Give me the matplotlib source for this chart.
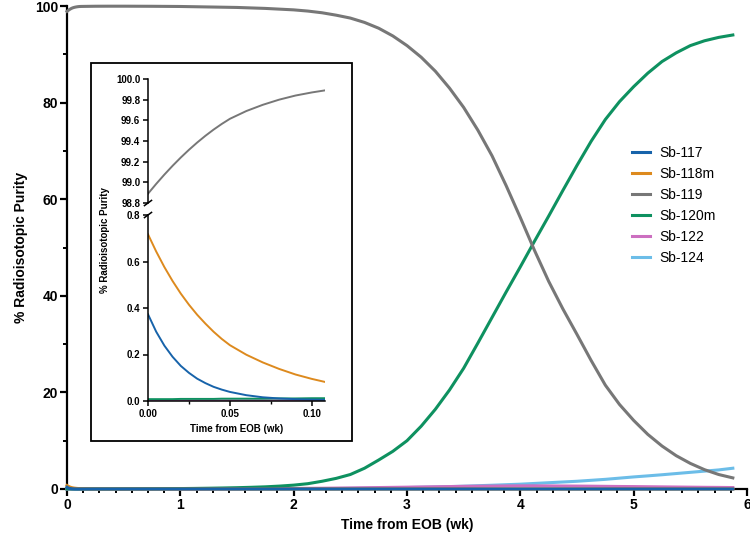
import numpy as np
import matplotlib
matplotlib.use("Agg")
import matplotlib.pyplot as plt
from matplotlib.ticker import FixedLocator, MultipleLocator, FormatStrFormatter
from matplotlib.patches import Rectangle

plt.rcParams['font.family'] = ['Liberation Sans', 'DejaVu Sans']

# time from end of bombardment (weeks)
t_wk = [0, 0.005, 0.01, 0.015, 0.02, 0.025, 0.03, 0.035, 0.04, 0.045, 0.05, 0.06, 0.07, 0.08, 0.09, 0.10, 0.108,
        0.125, 0.25, 0.375, 0.5, 0.625, 0.75, 0.875, 1.0, 1.125, 1.25, 1.375, 1.5, 1.625, 1.75, 1.875,
        2.0, 2.125, 2.25, 2.375, 2.5, 2.625, 2.75, 2.875, 3.0, 3.125, 3.25, 3.375, 3.5, 3.625, 3.75, 3.875,
        4.0, 4.125, 4.25, 4.375, 4.5, 4.625, 4.75, 4.875, 5.0, 5.125, 5.25, 5.375, 5.5, 5.625, 5.75, 5.875]

sb117 = [0.373, 0.298, 0.238, 0.190, 0.151, 0.121, 0.096, 0.077, 0.061, 0.049, 0.039, 0.025, 0.016, 0.011, 0.008, 0.006, 0.005,
         0.003, 0.0003, 0, 0, 0, 0, 0, 0, 0, 0, 0, 0, 0, 0, 0,
         0, 0, 0, 0, 0, 0, 0, 0, 0, 0, 0, 0, 0, 0, 0, 0,
         0, 0, 0, 0, 0, 0, 0, 0, 0, 0, 0, 0, 0, 0, 0, 0]
sb118m = [0.717, 0.643, 0.576, 0.516, 0.462, 0.414, 0.371, 0.333, 0.298, 0.267, 0.240, 0.199, 0.166, 0.138, 0.114, 0.095, 0.082,
          0.06, 0.008, 0.002, 0, 0, 0, 0, 0, 0, 0, 0, 0, 0, 0, 0,
          0, 0, 0, 0, 0, 0, 0, 0, 0, 0, 0, 0, 0, 0, 0, 0,
          0, 0, 0, 0, 0, 0, 0, 0, 0, 0, 0, 0, 0, 0, 0, 0]
sb119 = [98.89, 98.985, 99.075, 99.16, 99.24, 99.315, 99.385, 99.45, 99.51, 99.565, 99.615, 99.69, 99.75, 99.80, 99.84, 99.87, 99.89,
         99.91, 99.95, 99.96, 99.96, 99.95, 99.94, 99.92, 99.9, 99.85, 99.8, 99.75, 99.7, 99.6, 99.5, 99.35,
         99.2, 98.95, 98.6, 98.1, 97.5, 96.6, 95.4, 93.8, 91.8, 89.4, 86.5, 83.0, 79.0, 74.3, 69.0, 62.8,
         56.2, 49.4, 43.0, 37.3, 32.0, 26.6, 21.5, 17.5, 14.2, 11.3, 8.9, 6.9, 5.3, 4.0, 3.0, 2.3]
sb120m = [0.008, 0.008, 0.008, 0.008, 0.009, 0.009, 0.009, 0.009, 0.009, 0.010, 0.010, 0.010, 0.010, 0.011, 0.011, 0.012, 0.012,
          0.012, 0.015, 0.018, 0.03, 0.04, 0.05, 0.07, 0.09, 0.12, 0.16, 0.21, 0.27, 0.35, 0.45, 0.6,
          0.8, 1.1, 1.6, 2.2, 3.0, 4.3, 6.0, 7.8, 10.0, 13.0, 16.5, 20.5, 25.0, 30.2, 35.5, 40.8,
          46.0, 51.3, 56.5, 61.8, 67.0, 72.0, 76.5, 80.2, 83.3, 86.1, 88.5, 90.3, 91.8, 92.8, 93.5, 94.0]
sb122 = [0.003, 0.003, 0.003, 0.003, 0.003, 0.003, 0.003, 0.003, 0.003, 0.003, 0.003, 0.003, 0.003, 0.003, 0.003, 0.003, 0.003,
         0.004, 0.005, 0.007, 0.01, 0.014, 0.02, 0.025, 0.03, 0.035, 0.04, 0.05, 0.06, 0.075, 0.09, 0.105,
         0.12, 0.14, 0.16, 0.19, 0.22, 0.26, 0.3, 0.34, 0.38, 0.42, 0.46, 0.5, 0.55, 0.58, 0.6, 0.63,
         0.65, 0.65, 0.64, 0.62, 0.6, 0.58, 0.55, 0.52, 0.5, 0.47, 0.44, 0.41, 0.38, 0.35, 0.33, 0.3]
sb124 = [0.002, 0.002, 0.002, 0.002, 0.002, 0.002, 0.002, 0.002, 0.002, 0.002, 0.002, 0.002, 0.002, 0.002, 0.002, 0.002, 0.002,
         0.002, 0.002, 0.003, 0.004, 0.004, 0.005, 0.006, 0.008, 0.01, 0.012, 0.016, 0.02, 0.025, 0.03, 0.04,
         0.05, 0.065, 0.08, 0.1, 0.13, 0.16, 0.2, 0.25, 0.3, 0.36, 0.42, 0.5, 0.58, 0.68, 0.78, 0.89,
         1.0, 1.15, 1.3, 1.45, 1.6, 1.8, 2.0, 2.25, 2.5, 2.72, 2.95, 3.2, 3.45, 3.7, 3.95, 4.3]

labels = ['Sb-117', 'Sb-118m', 'Sb-119', 'Sb-120m', 'Sb-122', 'Sb-124']
colors = ['#1763AA', '#DD8A1E', '#777777', '#0E9160', '#CC6FC0', '#6CBDE8']
series = [sb117, sb118m, sb119, sb120m, sb122, sb124]

W, H = 750, 538
fig = plt.figure(figsize=(7.5, 5.38), dpi=100)


def fbox(x0, y0, x1, y1):
    # pixel box (top-left origin) -> figure fraction rect
    return [x0 / W, 1 - y1 / H, (x1 - x0) / W, (y1 - y0) / H]


# main axes
ax = fig.add_axes(fbox(67, 6, 747, 489))
lines = []
for lab, col, vals in reversed(list(zip(labels, colors, series))):
    ln, = ax.plot(t_wk, vals, color=col, lw=2.2, label=lab, zorder=3, clip_on=False)
    lines.append(ln)
lines = lines[::-1]

ax.set_xlim(0, 6)
ax.set_ylim(0, 100)
ax.set_xticks(range(0, 7))
ax.xaxis.set_minor_locator(FixedLocator(np.arange(0, 43) / 7))
ax.set_yticks(range(0, 101, 20))
ax.yaxis.set_minor_locator(MultipleLocator(10))
for s in ['top', 'right']:
    ax.spines[s].set_visible(False)
for s in ['left', 'bottom']:
    ax.spines[s].set_linewidth(1.6)
ax.tick_params(which='major', length=5, width=1.6, labelsize=10, pad=1.5)
ax.tick_params(which='minor', length=3, width=1.4)
for lbl in ax.get_xticklabels() + ax.get_yticklabels():
    lbl.set_fontweight('bold')
ax.set_xlabel('Time from EOB (wk)', fontsize=10, fontweight='bold', labelpad=4)
ax.set_ylabel('% Radioisotopic Purity', fontsize=10, fontweight='bold', labelpad=5)

ax.legend(lines, labels, loc='upper left', bbox_to_anchor=(632 / W, 1 - 146 / H),
          bbox_transform=fig.transFigure, frameon=False, fontsize=10,
          handlelength=1.3, handletextpad=0.65, labelspacing=0.5, borderpad=0, borderaxespad=0)

# inset frame
fig.add_artist(Rectangle((91 / W, 1 - 441 / H), 261 / W, 378 / H, transform=fig.transFigure,
                         facecolor='white', edgecolor='black', lw=1.3, zorder=1))

# inset: upper (Sb-119) and lower panels with broken y axis
axu = fig.add_axes(fbox(148, 79, 325, 203), zorder=2)
axl = fig.add_axes(fbox(148, 215, 325, 401), zorder=2)
for a in (axu, axl):
    a.patch.set_alpha(0)
    for lab, col, vals in reversed(list(zip(labels, colors, series))):
        a.plot(t_wk, vals, color=col, lw=1.4)
    a.set_xlim(0, 0.108)
    for s in ['top', 'right']:
        a.spines[s].set_visible(False)
    a.spines['left'].set_linewidth(1.1)
    a.spines['bottom'].set_linewidth(1.1)
    a.tick_params(which='major', length=3.5, width=1.1, labelsize=7, pad=2)
    a.tick_params(which='minor', length=2, width=1.0)

axu.set_ylim(98.8, 100.0)
axu.set_yticks(np.arange(98.8, 100.01, 0.2))
axu.yaxis.set_major_formatter(FormatStrFormatter('%.1f'))
axu.spines['bottom'].set_visible(False)
axu.tick_params(axis='x', which='both', bottom=False, labelbottom=False)

axl.set_ylim(0, 0.8)
axl.set_yticks(np.arange(0, 0.81, 0.2))
axl.yaxis.set_major_formatter(FormatStrFormatter('%.1f'))
axl.set_xticks([0, 0.05, 0.10])
axl.xaxis.set_major_formatter(FormatStrFormatter('%.2f'))
axl.xaxis.set_minor_locator(FixedLocator([0.025, 0.075]))
axl.set_xlabel('Time from EOB (wk)', fontsize=7, fontweight='bold', labelpad=4)

for a in (axu, axl):
    for lbl in a.get_xticklabels() + a.get_yticklabels():
        lbl.set_fontweight('bold')

# break marks
d = 0.035
axu.plot([-0.02, 0.02], [-d * 0.6, d * 0.6], transform=axu.transAxes, color='black', lw=1.1, clip_on=False)
axl.plot([-0.02, 0.02], [1 - d * 0.4, 1 + d * 0.4], transform=axl.transAxes, color='black', lw=1.1, clip_on=False)

fig.text(105 / W, 1 - 240 / H, '% Radioisotopic Purity', rotation=90, ha='center', va='center',
         fontsize=7, fontweight='bold')

fig.savefig('out.png', dpi=100)
